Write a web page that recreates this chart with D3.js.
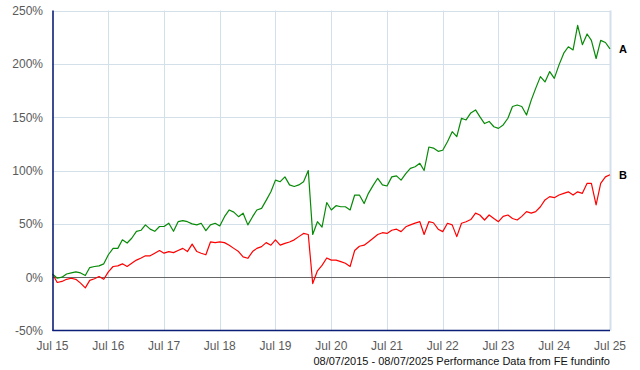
<!DOCTYPE html>
<html>
<head>
<meta charset="utf-8">
<title>Performance A vs B</title>
<style>
    body { margin: 0; background: #fff; }
    svg { display: block; font-family: "Liberation Sans", Arial, sans-serif; }
    .grid line { stroke: #d3e0ea; stroke-width: 1px; }
    .ylab, .xlab { fill: #5a5a5a; font-size: 12px; }
    .series { fill: none; stroke-width: 1.2px; stroke-linejoin: round; }
</style>
<script src="https://cdn.jsdelivr.net/npm/d3@7"></script>
</head>
<body>
<script>
// monthly readings from 08/07/2015, in % growth
const startDate = new Date(2015, 6, 8);
const endDate = new Date(2025, 6, 8);
const seriesA = [
    3, -1, 0, 3, 4, 5, 4, 1.5, 9, 10, 10.6, 12.5,
    21, 27, 27, 35, 32, 36.5, 43, 44, 49, 45, 43, 47.5,
    47.5, 50.6, 43, 52, 53, 52, 50, 49, 50.5, 43.6, 49, 50.5,
    48, 56.7, 63, 61, 56.7, 60, 49, 56.7, 63, 64.5, 72, 80,
    91, 89.5, 94, 86.5, 85, 86.5, 89.5, 100, 40, 52, 47, 70,
    63, 67, 66, 66, 63, 77, 77, 69, 78.6, 86, 92.7, 86.5,
    85.5, 94, 95, 91, 97, 102, 103.5, 106.7, 100, 122, 121, 118,
    119, 127, 136.4, 131.7, 149, 147.4, 154, 156.8, 150.5, 144, 146, 141,
    139.5, 142.7, 149, 160, 161.4, 160, 152, 166, 177, 188, 183, 192.7,
    186.4, 199, 210, 216, 213, 236, 218, 228, 222, 205, 222, 220,
    214
];
const seriesB = [
    3, -5, -4, -2, -1, -2, -5.6, -10, -3, -1.5, 0.6, -2,
    5, 10, 10.6, 12.5, 10, 13, 16, 18, 20, 20, 22.5, 25,
    22.5, 24, 23, 25, 27, 24, 31, 24, 22.4, 21, 33, 32.4,
    33, 32.4, 30, 27, 24, 19, 17.7, 24, 27, 28.6, 32.4, 30,
    35, 30, 31.7, 33, 35, 38, 41, 40, -6, 6, 11, 18,
    16, 16, 14.6, 13, 10, 25, 29, 30, 33, 36.5, 40, 41.7,
    41, 44, 45, 42.7, 47.2, 49, 50.7, 52, 40, 52, 51, 45,
    42.7, 50.5, 49, 38, 50.5, 52, 54, 60, 58.3, 53.6, 58.3, 55,
    52, 57, 58.3, 55, 53.6, 57, 61.4, 60, 61.4, 66, 72.4, 75.5,
    74.5, 77, 78.6, 80, 77, 80, 78.6, 88, 88, 67.7, 88, 94,
    96
];
const yTicks = [-50, 0, 50, 100, 150, 200, 250];
const xTickLabels = ["Jul 15", "Jul 16", "Jul 17", "Jul 18", "Jul 19", "Jul 20",
    "Jul 21", "Jul 22", "Jul 23", "Jul 24", "Jul 25"];
const footnote = "08/07/2015 - 08/07/2025 Performance Data from FE fundinfo";

const width = 640, height = 370;
const plotLeft = 52.5, plotRight = 610, plotTop = 10.5, plotBottom = 330.5;

const svg = d3.select('body').append('svg')
    .attr('width', width)
    .attr('height', height);

const x = d3.scaleTime().domain([startDate, endDate]).range([plotLeft, plotRight]);
const y = d3.scaleLinear().domain([-50, 250]).range([plotBottom, plotTop]);

const xTicks = xTickLabels.map((d, i) => d3.timeYear.offset(startDate, i));
const dates = seriesA.map((d, i) => d3.timeMonth.offset(startDate, i));

// grid
const grid = svg.append('g').attr('class', 'grid');
grid.selectAll('.h')
    .data(yTicks.filter(d => d !== 0 && d !== -50))
    .enter().append('line')
    .attr('x1', plotLeft).attr('x2', plotRight)
    .attr('y1', d => Math.round(y(d)) + 0.5).attr('y2', d => Math.round(y(d)) + 0.5);
grid.selectAll('.v')
    .data(xTicks.slice(1))
    .enter().append('line')
    .attr('x1', d => Math.round(x(d)) + 0.5).attr('x2', d => Math.round(x(d)) + 0.5)
    .attr('y1', plotTop).attr('y2', plotBottom)
    .style('stroke-width', (d, i) => i === xTicks.length - 2 ? 2 : 1);

// zero line
svg.append('line')
    .attr('x1', plotLeft).attr('x2', plotRight)
    .attr('y1', Math.round(y(0)) + 0.5).attr('y2', Math.round(y(0)) + 0.5)
    .attr('stroke', '#666').attr('stroke-width', 1);

// series
const line = d3.line()
    .x((d, i) => x(dates[i]))
    .y(d => y(d));

svg.append('path').datum(seriesB)
    .attr('class', 'series')
    .attr('stroke', '#ff0000')
    .attr('d', line);
svg.append('path').datum(seriesA)
    .attr('class', 'series')
    .attr('stroke', '#078a07')
    .attr('d', line);

// axis lines
svg.append('line')
    .attr('x1', plotLeft + 0.5).attr('x2', plotLeft + 0.5)
    .attr('y1', plotTop).attr('y2', plotBottom + 0.5)
    .attr('stroke', '#0c1f78').attr('stroke-width', 1.6);
svg.append('line')
    .attr('x1', plotLeft).attr('x2', plotRight)
    .attr('y1', plotBottom).attr('y2', plotBottom)
    .attr('stroke', '#0c1f78').attr('stroke-width', 1.6);

// tick labels
svg.selectAll('.ylab')
    .data(yTicks)
    .enter().append('text')
    .attr('class', 'ylab')
    .attr('x', 43)
    .attr('y', d => y(d) + 4.5)
    .attr('text-anchor', 'end')
    .text(d => d + '%');

svg.selectAll('.xlab')
    .data(xTicks)
    .enter().append('text')
    .attr('class', 'xlab')
    .attr('x', d => x(d))
    .attr('y', 350)
    .attr('text-anchor', 'middle')
    .text((d, i) => xTickLabels[i]);

svg.append('text')
    .attr('x', 610)
    .attr('y', 365)
    .attr('text-anchor', 'end')
    .style('font-size', '11px')
    .style('fill', '#111')
    .text(footnote);

// series labels at the right end
svg.append('text')
    .attr('x', 619).attr('y', y(seriesA[seriesA.length - 1]) + 4)
    .style('font-size', '11px').style('font-weight', 'bold')
    .text('A');
svg.append('text')
    .attr('x', 619).attr('y', y(seriesB[seriesB.length - 1]) + 4)
    .style('font-size', '11px').style('font-weight', 'bold')
    .text('B');
</script>
</body>
</html>
